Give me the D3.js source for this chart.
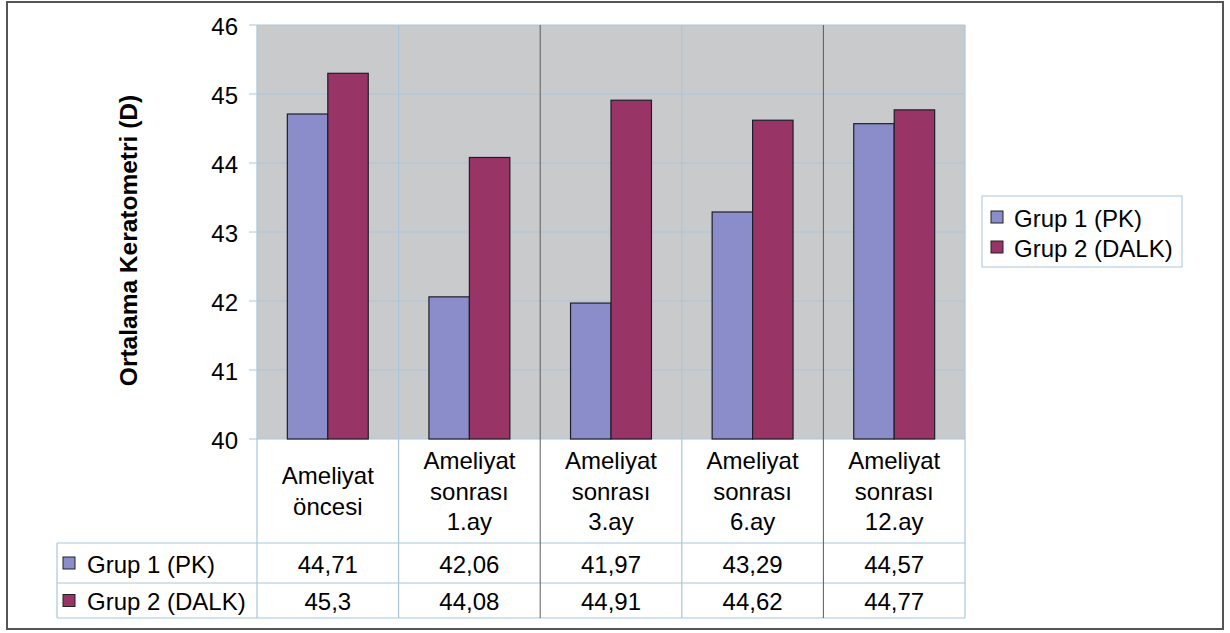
<!DOCTYPE html>
<html>
<head>
<meta charset="utf-8">
<script src="https://cdn.jsdelivr.net/npm/d3@7"></script>
<style>
  html, body { margin: 0; padding: 0; background: #fff; }
  svg { display: block; font-family: "Liberation Sans", Arial, sans-serif; }
</style>
</head>
<body>
<svg id="chart" width="1230" height="633"></svg>
<script>
// Mean keratometry (D) before and after surgery, two groups
const categories = [
  ["Ameliyat", "öncesi"],
  ["Ameliyat", "sonrası", "1.ay"],
  ["Ameliyat", "sonrası", "3.ay"],
  ["Ameliyat", "sonrası", "6.ay"],
  ["Ameliyat", "sonrası", "12.ay"]
];
const seriesNames = ["Grup 1 (PK)", "Grup 2 (DALK)"];
const grup1 = [44.71, 42.06, 41.97, 43.29, 44.57];
const grup2 = [45.3, 44.08, 44.91, 44.62, 44.77];
const valueLabels1 = ["44,71", "42,06", "41,97", "43,29", "44,57"];
const valueLabels2 = ["45,3", "44,08", "44,91", "44,62", "44,77"];
const yTicks = [40, 41, 42, 43, 44, 45, 46];
const yTitle = "Ortalama Keratometri (D)";

const colors = ["#8a8dc9", "#993467"];
const gridBlue = "#a9c6da";
const darkLine = "#5a5a5a";
const fontSize = "24px";

const svg = d3.select("#chart");

// outer frame
svg.append("rect")
  .attr("x", 7).attr("y", 2).attr("width", 1216).attr("height", 627)
  .attr("fill", "#fff").attr("stroke", "#555").attr("stroke-width", 2);

const plot = { left: 257, right: 965, top: 25, bottom: 439 };
const table = { left: 57, labelBottom: 543, row1Bottom: 583, row2Bottom: 618 };

const keys = categories.map((c, i) => "c" + i);
const x0 = d3.scaleBand().domain(keys).range([plot.left, plot.right]).padding(0);
const x1 = d3.scaleBand().domain(seriesNames).range([0, x0.bandwidth()])
  .paddingInner(0).paddingOuter(0.75);
const y = d3.scaleLinear().domain([40, 46]).range([plot.bottom, plot.top]);

// plot background
svg.append("rect")
  .attr("x", plot.left).attr("y", plot.top)
  .attr("width", plot.right - plot.left).attr("height", plot.bottom - plot.top)
  .attr("fill", "#c9cacc");

// horizontal gridlines with short ticks on the left
svg.append("g").selectAll("line").data(yTicks).join("line")
  .attr("x1", plot.left - 8).attr("x2", plot.right)
  .attr("y1", d => y(d)).attr("y2", d => y(d))
  .attr("stroke", gridBlue).attr("stroke-width", 1);

// y axis tick labels
svg.append("g").selectAll("text").data(yTicks).join("text")
  .attr("x", 238).attr("y", d => y(d) + 1)
  .attr("text-anchor", "end").attr("dominant-baseline", "central")
  .attr("font-size", fontSize).attr("fill", "#000")
  .text(d => d);

// y axis title
svg.append("text")
  .attr("transform", `translate(128, ${(95 + 386) / 2}) rotate(-90)`)
  .attr("text-anchor", "middle").attr("dominant-baseline", "central")
  .attr("font-size", "24.5px").attr("font-weight", "bold").attr("fill", "#000")
  .text(yTitle);

// bars
const bars = svg.append("g");
[grup1, grup2].forEach((vals, s) => {
  bars.selectAll(null).data(vals).join("rect")
    .attr("x", (d, i) => x0(keys[i]) + x1(seriesNames[s]))
    .attr("y", d => y(d))
    .attr("width", x1.bandwidth())
    .attr("height", d => y(40) - y(d))
    .attr("fill", colors[s])
    .attr("stroke", "#1e1e2a").attr("stroke-width", 1.2);
});

// table horizontal lines
[table.labelBottom, table.row1Bottom, table.row2Bottom].forEach(yy => {
  svg.append("line")
    .attr("x1", table.left).attr("x2", plot.right)
    .attr("y1", yy).attr("y2", yy)
    .attr("stroke", gridBlue).attr("stroke-width", 1.2);
});
svg.append("line")
  .attr("x1", table.left).attr("x2", table.left)
  .attr("y1", table.labelBottom).attr("y2", table.row2Bottom)
  .attr("stroke", gridBlue).attr("stroke-width", 1.2);

// vertical category boundaries through plot and table
const bounds = keys.map(k => x0(k)).concat([plot.right]);
svg.append("g").selectAll("line").data(bounds).join("line")
  .attr("x1", d => d).attr("x2", d => d)
  .attr("y1", plot.top).attr("y2", table.row2Bottom)
  .attr("stroke", (d, i) => (i === 2 || i === 4) ? darkLine : gridBlue)
  .attr("stroke-width", (d, i) => (i === 2 || i === 4) ? 1 : 1.2);

// category labels
const lineH = 30.5;
const labelMid = (plot.bottom + table.labelBottom) / 2;
categories.forEach((lines, i) => {
  const cx = x0(keys[i]) + x0.bandwidth() / 2;
  const t = svg.append("text")
    .attr("text-anchor", "middle").attr("font-size", fontSize).attr("fill", "#000");
  lines.forEach((ln, j) => {
    t.append("tspan")
      .attr("x", cx)
      .attr("y", labelMid + (j - (lines.length - 1) / 2) * lineH)
      .attr("dominant-baseline", "central")
      .text(ln);
  });
});

// table value rows
const rows = [
  { labels: valueLabels1, mid: (table.labelBottom + table.row1Bottom) / 2 },
  { labels: valueLabels2, mid: (table.row1Bottom + table.row2Bottom) / 2 }
];
rows.forEach((r, s) => {
  svg.append("g").selectAll("text").data(r.labels).join("text")
    .attr("x", (d, i) => x0(keys[i]) + x0.bandwidth() / 2)
    .attr("y", r.mid + 1)
    .attr("text-anchor", "middle").attr("dominant-baseline", "central")
    .attr("font-size", fontSize).attr("fill", "#000")
    .text(d => d);
  // legend keys inside the table
  svg.append("rect")
    .attr("x", 63).attr("y", r.mid - 6).attr("width", 12).attr("height", 12)
    .attr("fill", colors[s]).attr("stroke", "#222").attr("stroke-width", 1);
  svg.append("text")
    .attr("x", 87).attr("y", r.mid + 1)
    .attr("dominant-baseline", "central")
    .attr("font-size", fontSize).attr("fill", "#000")
    .text(seriesNames[s]);
});

// legend box
const legend = svg.append("g");
legend.append("rect")
  .attr("x", 982).attr("y", 196).attr("width", 200).attr("height", 71)
  .attr("fill", "#fff").attr("stroke", gridBlue).attr("stroke-width", 1);
seriesNames.forEach((name, s) => {
  const cy = 217 + s * 30;
  legend.append("rect")
    .attr("x", 991).attr("y", cy - 6).attr("width", 12).attr("height", 12)
    .attr("fill", colors[s]).attr("stroke", "#222").attr("stroke-width", 1);
  legend.append("text")
    .attr("x", 1014).attr("y", cy + 1)
    .attr("dominant-baseline", "central")
    .attr("font-size", fontSize).attr("fill", "#000")
    .text(name);
});
</script>
</body>
</html>
